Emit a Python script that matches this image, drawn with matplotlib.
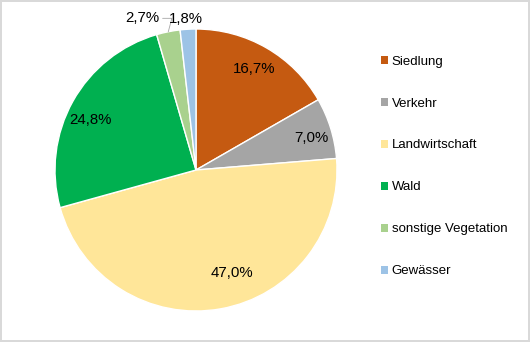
import numpy as np
import matplotlib
matplotlib.use("Agg")
from matplotlib import pyplot as plt

categories = ['Siedlung', 'Verkehr', 'Landwirtschaft', 'Wald',
              'sonstige Vegetation', 'Gewässer']
shares = [16.7, 7.0, 47.0, 24.8, 2.7, 1.8]
colors = ['#C55A11', '#A5A5A5', '#FFE699', '#00B050', '#A9D18E', '#9DC3E6']

# label placement (radius as fraction of pie radius, angle nudge in degrees)
label_radius = [0.83, 0.85, 0.77, 0.83, 1.14, 1.07]
label_shift = [0, -2, 9, 4, 8, 0.5]

plt.rcParams['font.family'] = ['Liberation Sans', 'DejaVu Sans']

fig = plt.figure(figsize=(5.3, 3.42), dpi=100, edgecolor='#D9D9D9', linewidth=1.5)
W, H = 530, 342
cx, cy, r = 196, 170, 141
ax = fig.add_axes([(cx - r) / W, (H - cy - r) / H, 2 * r / W, 2 * r / H])

wedges, _ = ax.pie(shares, colors=colors, startangle=90, counterclock=False,
                   radius=1, wedgeprops=dict(edgecolor='white', linewidth=1))
ax.set_xlim(-1, 1)
ax.set_ylim(-1, 1)
ax.set_aspect('equal')
ax.axis('off')

for i, w in enumerate(wedges):
    mid = (w.theta1 + w.theta2) / 2
    ang = np.deg2rad(mid + label_shift[i])
    x = label_radius[i] * np.cos(ang)
    y = label_radius[i] * np.sin(ang)
    txt = ('%.1f%%' % shares[i]).replace('.', ',')
    if label_radius[i] > 1:
        edge = (np.cos(np.deg2rad(mid)), np.sin(np.deg2rad(mid)))
        ax.annotate(txt, xy=edge, xytext=(x, y), ha='center', va='center',
                    fontsize=10.8, color='#000000',
                    arrowprops=dict(arrowstyle='-', color='#A6A6A6', lw=0.6,
                                    shrinkA=0, shrinkB=0,
                                    connectionstyle='angle,angleA=0,angleB=75,rad=0')
                    if i == 4 else None)
    else:
        ax.text(x, y, txt, ha='center', va='center', fontsize=10.8, color='#000000')

leg = fig.legend(wedges, categories, loc='upper left',
                 bbox_to_anchor=(374 / W, 1 - 49 / H), frameon=False,
                 fontsize=9.5, handlelength=0.55, handleheight=0.55,
                 handletextpad=0.3, labelspacing=2.27, borderpad=0)
for h in leg.legend_handles:
    h.set_edgecolor('none')

fig.savefig('out.png', dpi=100, edgecolor=fig.get_edgecolor())
